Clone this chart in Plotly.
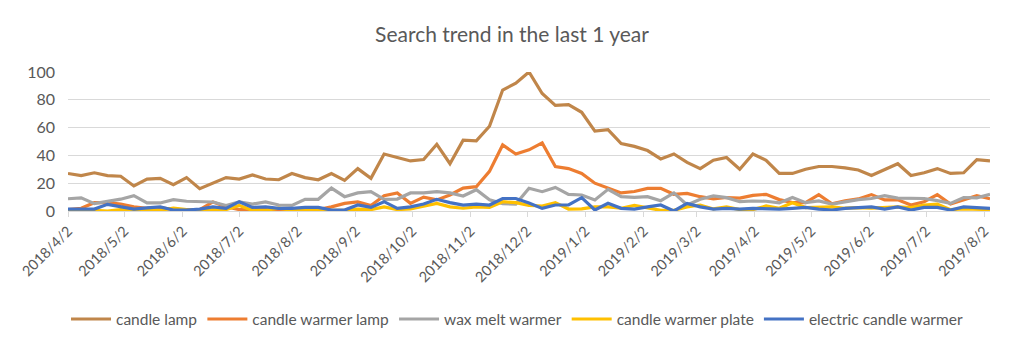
import pandas as pd
import plotly.graph_objects as go

start_date = "2018-04-02"
n_weeks = 71
dates = pd.date_range(start_date, periods=n_weeks, freq="7D")

candle_lamp = [27, 25.5, 27.5, 25.5, 25, 18, 23, 23.5, 19, 24, 16, 20, 24, 23, 26, 23, 22.5, 27, 24, 22.5, 27,
               22, 30.5, 23.5, 41, 38.5, 36, 37, 48, 34, 51, 50.5, 61, 87, 92, 100,
               84.5, 76, 76.5, 71, 57.5, 58.5, 48.5, 46.5, 43.5, 37.5, 41, 35, 30.5, 36.5, 38.5, 30, 41,
               36.5, 27, 27, 30, 32, 32, 31, 29.5, 25.5, 30, 34, 25.5, 27.5, 30.5, 27, 27.5, 37, 36]
candle_warmer_lamp = [1, 2, 6, 6, 5, 3, 2, 2.5, 1, 1, 1, 6.5, 3, 1, 1, 1, 1, 1, 1, 1, 3,
                      5.5, 6.5, 4, 11, 13, 5.5, 10, 8, 11.5, 16.5, 17.5, 28.5, 47.5, 41, 44,
                      49, 32, 30.5, 27, 20, 16.3, 13, 14, 16.3, 16.3, 12, 12.7, 10.3, 8.8, 9.7, 9.3, 11.2,
                      12, 8.2, 6, 6, 11.8, 5.2, 7.3, 8.7, 11.8, 8, 8, 4.3, 6.7, 11.8, 5, 8, 11, 8.8]
wax_melt_warmer = [8.8, 9.5, 5.3, 6.8, 8.5, 11, 5.8, 5.8, 8.2, 7, 6.8, 6.5, 4, 6.5, 5, 6.5, 4.3, 4, 8.4, 8.4, 16.5,
                   10.3, 13, 13.9, 8.4, 8.6, 13, 13, 13.9, 13, 10.8, 15.3, 8, 5.3, 5, 16.4,
                   13.9, 17, 12, 11.5, 8, 15.6, 10.3, 9.8, 10.3, 7.4, 13, 4.3, 8.4, 10.8, 9.6, 6.7, 7.2,
                   7, 5.8, 9.7, 6, 7.3, 5, 6.7, 8.2, 9, 11, 9.3, 9, 9, 7.5, 5.5, 9.7, 9.5, 12]
candle_warmer_plate = [1, 1, 0.5, 0, 1, 0.5, 1, 0.5, 2, 1, 0.5, 1, 1, 4, 0.5, 0.5, 2, 0.5, 0.5, 0.5, 1,
                       0.5, 1.4, 1, 3, 1, 1.5, 3.6, 5.5, 3, 2, 3, 2.6, 6.7, 6, 4,
                       3.6, 6, 1.4, 1.5, 3, 3, 2, 4, 2, 0.5, 0.5, 3, 4.3, 1.5, 3, 1, 1,
                       3.6, 2, 6, 2.5, 2.5, 3, 2, 2.5, 2, 2.5, 3, 2.5, 4.3, 5, 1, 1.5, 1.5, 1]
electric_candle_warmer = [1.4, 1.4, 1.4, 4.8, 3, 1.4, 2.2, 3, 0.7, 0.7, 1.4, 3, 1.9, 6.7, 2.6, 3, 1.9, 1.9, 2.6, 2.6, 0.7,
                          0.7, 4.3, 2.6, 6.7, 1.9, 3, 5, 8.4, 6, 4.3, 5, 4.3, 9, 9, 5.8,
                          1.9, 4.3, 4.3, 9.6, 0.7, 5.5, 1.9, 1.4, 3, 4.3, 0, 5.5, 3, 1.4, 1.9, 1.4, 1.9,
                          1.4, 1.4, 1.9, 2.6, 1.4, 0.7, 1.9, 2.6, 3, 1.4, 3, 0.7, 2.6, 2.6, 0.7, 3, 2.6, 1.9]

series_names = ["candle lamp", "candle warmer lamp", "wax melt warmer",
                "candle warmer plate", "electric candle warmer"]
series_values = [candle_lamp, candle_warmer_lamp, wax_melt_warmer,
                 candle_warmer_plate, electric_candle_warmer]
series_colors = ["#C0864A", "#ED7D31", "#A5A5A5", "#FFC000", "#4472C4"]

tick_dates = ["2018-04-02", "2018-05-02", "2018-06-02", "2018-07-02", "2018-08-02", "2018-09-02",
              "2018-10-02", "2018-11-02", "2018-12-02", "2019-01-02", "2019-02-02", "2019-03-02",
              "2019-04-02", "2019-05-02", "2019-06-02", "2019-07-02", "2019-08-02"]
tick_labels = ["2018/4/2", "2018/5/2", "2018/6/2", "2018/7/2", "2018/8/2", "2018/9/2",
               "2018/10/2", "2018/11/2", "2018/12/2", "2019/1/2", "2019/2/2", "2019/3/2",
               "2019/4/2", "2019/5/2", "2019/6/2", "2019/7/2", "2019/8/2"]
y_ticks = [0, 20, 40, 60, 80, 100]

FONT = "Lato, 'Open Sans', sans-serif"
TXT = "#595959"

fig = go.Figure()
for name, vals, col in zip(series_names, series_values, series_colors):
    fig.add_trace(go.Scatter(x=dates, y=vals, mode="lines", name=name,
                             line=dict(color=col, width=3.2)))

fig.update_layout(
    width=1024, height=349, autosize=False,
    margin=dict(l=68, r=34, t=72, b=138, autoexpand=False),
    paper_bgcolor="white", plot_bgcolor="white",
    font=dict(family=FONT, color=TXT, size=14),
    title=dict(text="Search trend in the last 1 year", x=0.5, xanchor="center",
               y=1 - 35 / 349, yanchor="middle", yref="container",
               font=dict(size=21, color=TXT, family=FONT)),
    showlegend=True,
    legend=dict(orientation="h", x=0.487, xanchor="center",
                y=-0.78, yanchor="middle", font=dict(size=15.5, color=TXT),
                itemwidth=40, traceorder="normal", bgcolor="rgba(0,0,0,0)"),
    xaxis=dict(type="date", range=[dates[0], dates[-1]],
               tickvals=tick_dates, ticktext=tick_labels, tickangle=-45,
               showgrid=False, showline=True, linecolor="#D9D9D9", linewidth=1,
               ticks="outside", ticklen=5, tickcolor="#D9D9D9",
               tickfont=dict(size=14.5, color=TXT), zeroline=False, automargin=False),
    yaxis=dict(range=[0, 100], tickvals=y_ticks, showgrid=True, gridcolor="#D9D9D9",
               gridwidth=1, zeroline=False, showline=False, ticks="",
               ticklabelstandoff=12, tickfont=dict(size=16, color=TXT), automargin=False),
)

fig.write_html("out.html")
